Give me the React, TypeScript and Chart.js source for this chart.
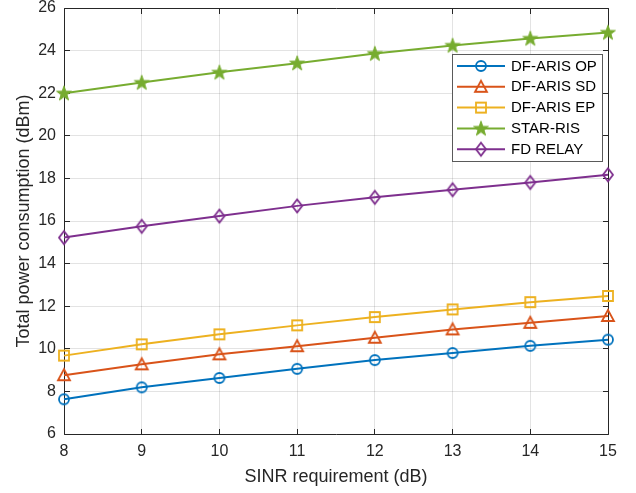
import React, { useEffect, useRef } from "react";
import { Chart, registerables } from "chart.js";

Chart.register(...registerables);

const sinrDb = [8, 9, 10, 11, 12, 13, 14, 15];
const dfArisOp = [7.63, 8.19, 8.63, 9.06, 9.47, 9.8, 10.14, 10.43];
const dfArisSd = [8.76, 9.27, 9.74, 10.12, 10.52, 10.91, 11.22, 11.54];
const dfArisEp = [9.68, 10.21, 10.68, 11.1, 11.49, 11.85, 12.19, 12.48];
const starRis = [22.0, 22.5, 22.98, 23.41, 23.86, 24.24, 24.57, 24.85];
const fdRelay = [15.22, 15.75, 16.23, 16.71, 17.11, 17.47, 17.81, 18.17];

const seriesLabels = ["DF-ARIS OP", "DF-ARIS SD", "DF-ARIS EP", "STAR-RIS", "FD RELAY"];
const seriesColors = ["#0072BD", "#D95319", "#EDB120", "#77AC30", "#7E2F8E"];
const seriesMarkers = ["circle", "triangle", "square", "star", "diamond"];
const xTickValues = [8, 15, 1];
const yTickValues = [6, 26, 2];

const FONT = "'Liberation Sans', Arial, Helvetica, sans-serif";
const AXIS_COLOR = "#262626";

function makeMarker(kind: string, color: string): HTMLCanvasElement {
  const c = document.createElement("canvas");
  const s = 20;
  c.width = s;
  c.height = s;
  const ctx = c.getContext("2d")!;
  const cx = s / 2;
  const cy = s / 2;
  ctx.strokeStyle = color;
  ctx.fillStyle = color;
  ctx.lineWidth = 1.8;
  ctx.lineJoin = "miter";
  ctx.beginPath();
  if (kind === "circle") {
    ctx.arc(cx, cy, 5, 0, Math.PI * 2);
    ctx.stroke();
  } else if (kind === "triangle") {
    ctx.moveTo(cx, cy - 6);
    ctx.lineTo(cx + 6, cy + 5);
    ctx.lineTo(cx - 6, cy + 5);
    ctx.closePath();
    ctx.stroke();
  } else if (kind === "square") {
    ctx.rect(cx - 5, cy - 5, 10, 10);
    ctx.stroke();
  } else if (kind === "diamond") {
    ctx.moveTo(cx, cy - 6.5);
    ctx.lineTo(cx + 5, cy);
    ctx.lineTo(cx, cy + 6.5);
    ctx.lineTo(cx - 5, cy);
    ctx.closePath();
    ctx.stroke();
  } else if (kind === "star") {
    const ro = 7.8;
    const ri = 3.1;
    for (let i = 0; i < 10; i++) {
      const r = i % 2 === 0 ? ro : ri;
      const a = -Math.PI / 2 + (i * Math.PI) / 5;
      const px = cx + r * Math.cos(a);
      const py = cy + 0.5 + r * Math.sin(a);
      if (i === 0) ctx.moveTo(px, py);
      else ctx.lineTo(px, py);
    }
    ctx.closePath();
    ctx.fill();
    ctx.lineWidth = 1;
    ctx.stroke();
  }
  return c;
}

function align(p: number) {
  return Math.round(p - 0.5) + 0.5;
}

const boxPlugin = {
  id: "matlabBox",
  beforeDatasetsDraw(chart: any) {
    const { ctx, chartArea, scales } = chart;
    const L = align(chartArea.left);
    const R = align(chartArea.right);
    const T = align(chartArea.top);
    const B = align(chartArea.bottom);
    const tl = 5.5;
    ctx.save();
    ctx.strokeStyle = AXIS_COLOR;
    ctx.lineWidth = 1;
    ctx.beginPath();
    ctx.rect(L, T, R - L, B - T);
    for (const t of scales.x.ticks) {
      const px = align(scales.x.getPixelForValue(t.value));
      ctx.moveTo(px, B);
      ctx.lineTo(px, B - tl);
      ctx.moveTo(px, T);
      ctx.lineTo(px, T + tl);
    }
    for (const t of scales.y.ticks) {
      const py = align(scales.y.getPixelForValue(t.value));
      ctx.moveTo(L, py);
      ctx.lineTo(L + tl, py);
      ctx.moveTo(R, py);
      ctx.lineTo(R - tl, py);
    }
    ctx.stroke();
    ctx.restore();
  },
};

const legendPlugin = {
  id: "matlabLegend",
  afterDraw(chart: any) {
    const { ctx } = chart;
    const ds = chart.data.datasets;
    const bx = 452.5;
    const by = 54.5;
    const bw = 150;
    const bh = 107;
    ctx.save();
    ctx.fillStyle = "#ffffff";
    ctx.fillRect(bx, by, bw, bh);
    ctx.strokeStyle = "#5a5a5a";
    ctx.lineWidth = 1;
    ctx.strokeRect(bx, by, bw, bh);
    ctx.font = `15px ${FONT}`;
    ctx.textBaseline = "middle";
    ctx.textAlign = "left";
    ds.forEach((d: any, i: number) => {
      const yy = 66 + i * 20.8;
      ctx.strokeStyle = d.borderColor;
      ctx.lineWidth = 2;
      ctx.beginPath();
      ctx.moveTo(457, yy);
      ctx.lineTo(505, yy);
      ctx.stroke();
      const img = d.pointStyle as HTMLCanvasElement;
      ctx.drawImage(img, 481 - img.width / 2, yy - img.height / 2);
      ctx.fillStyle = "#000000";
      ctx.fillText(d.label, 511, yy + 0.5);
    });
    ctx.restore();
  },
};

export default function App() {
  const ref = useRef<HTMLCanvasElement | null>(null);
  useEffect(() => {
    if (!ref.current) return;
    const allSeries = [dfArisOp, dfArisSd, dfArisEp, starRis, fdRelay];
    const datasets = allSeries.map((vals, i) => ({
      label: seriesLabels[i],
      data: sinrDb.map((x, j) => ({ x, y: vals[j] })),
      borderColor: seriesColors[i],
      backgroundColor: seriesColors[i],
      borderWidth: 2,
      pointStyle: makeMarker(seriesMarkers[i], seriesColors[i]),
      pointRadius: 6,
      pointHoverRadius: 6,
      tension: 0,
      clip: false as any,
    }));
    const chart = new Chart(ref.current, {
      type: "line",
      data: { datasets },
      options: {
        animation: false,
        responsive: false,
        events: [],
        layout: { padding: { left: 0, right: 28, top: 6, bottom: 0 } },
        plugins: { legend: { display: false }, tooltip: { enabled: false } },
        scales: {
          x: {
            type: "linear",
            min: xTickValues[0],
            max: xTickValues[1],
            ticks: {
              stepSize: xTickValues[2],
              color: AXIS_COLOR,
              font: { family: FONT, size: 16 },
              padding: 8,
              maxRotation: 0,
            },
            grid: { color: "rgba(38,38,38,0.13)", drawTicks: false, lineWidth: 1 },
            border: { display: false },
            title: {
              display: true,
              text: "SINR requirement (dB)",
              color: AXIS_COLOR,
              font: { family: FONT, size: 18 },
              padding: { top: 0, bottom: 5 },
            },
            afterFit: (s: any) => {
              s.height = 59;
              s.paddingLeft = 0;
              s.paddingRight = 0;
            },
          },
          y: {
            type: "linear",
            min: yTickValues[0],
            max: yTickValues[1],
            ticks: {
              stepSize: yTickValues[2],
              color: AXIS_COLOR,
              font: { family: FONT, size: 16 },
              padding: 8,
            },
            grid: { color: "rgba(38,38,38,0.13)", drawTicks: false, lineWidth: 1 },
            border: { display: false },
            title: {
              display: true,
              text: "Total power consumption (dBm)",
              color: AXIS_COLOR,
              font: { family: FONT, size: 18 },
              padding: { top: 13, bottom: 0 },
            },
            afterFit: (s: any) => {
              s.width = 64;
              s.paddingTop = 0;
              s.paddingBottom = 0;
            },
          },
        },
      },
      plugins: [boxPlugin, legendPlugin],
    });
    return () => chart.destroy();
  }, []);
  return (
    <div style={{ position: "fixed", left: 0, top: 0, width: 636, height: 493, background: "#fff" }}>
      <canvas ref={ref} width={636} height={493} style={{ width: 636, height: 493, display: "block" }} />
    </div>
  );
}
